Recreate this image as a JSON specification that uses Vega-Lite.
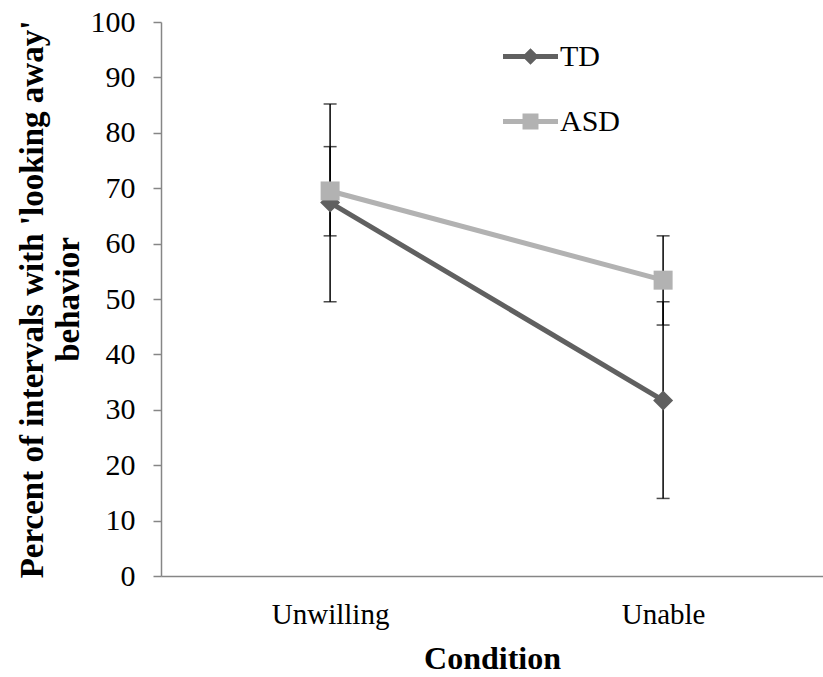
{
  "$schema": "https://vega.github.io/schema/vega-lite/v6.json",
  "width": 662,
  "height": 554,
  "autosize": "none",
  "padding": {"left": 161, "top": 22, "right": 0, "bottom": 101},
  "background": "white",
  "config": {
    "view": {"stroke": null},
    "font": "Liberation Serif",
    "axis": {"grid": false, "domainColor": "#868686", "tickColor": "#868686", "labelColor": "black", "titleColor": "black", "labelFont": "Liberation Serif", "titleFont": "Liberation Serif", "domainWidth": 1.5},
    "axisY": {"labelFontSize": 30, "labelPadding": 18, "tickSize": 8, "tickWidth": 1.5, "titleFontSize": 33, "titleFontWeight": "bold", "titleLineHeight": 36, "titlePadding": 5}
  },
  "data": {
    "values": [
      {"condition": "Unwilling", "group": "TD", "mean": 67.4, "lo": 49.5, "hi": 85.2},
      {"condition": "Unwilling", "group": "ASD", "mean": 69.5, "lo": 61.4, "hi": 77.5},
      {"condition": "Unable", "group": "TD", "mean": 31.7, "lo": 14.0, "hi": 49.5},
      {"condition": "Unable", "group": "ASD", "mean": 53.4, "lo": 45.3, "hi": 61.4}
    ]
  },
  "encoding": {
    "x": {
      "field": "condition",
      "type": "nominal",
      "sort": ["Unwilling", "Unable"],
      "scale": {"type": "point", "padding": 0.494, "align": 0.514},
      "axis": {"title": "Condition", "ticks": false, "labelAngle": 0, "labelFontSize": 29, "labelPadding": 24, "titleFontSize": 32, "titleFontWeight": "bold", "titlePadding": 14}
    }
  },
  "layer": [
    {
      "mark": {"type": "rule", "color": "black", "strokeWidth": 1.5},
      "encoding": {
        "y": {
          "field": "lo",
          "type": "quantitative",
          "title": ["Percent of intervals with 'looking away'", "behavior"],
          "scale": {"domain": [0, 100], "nice": false},
          "axis": {"values": [0, 10, 20, 30, 40, 50, 60, 70, 80, 90, 100]}
        },
        "y2": {"field": "hi"}
      }
    },
    {
      "mark": {"type": "tick", "color": "black", "thickness": 1.5, "size": 13, "orient": "horizontal"},
      "encoding": {"y": {"field": "lo", "type": "quantitative", "title": ["Percent of intervals with 'looking away'", "behavior"]}}
    },
    {
      "mark": {"type": "tick", "color": "black", "thickness": 1.5, "size": 13, "orient": "horizontal"},
      "encoding": {"y": {"field": "hi", "type": "quantitative", "title": ["Percent of intervals with 'looking away'", "behavior"]}}
    },
    {
      "mark": {"type": "line", "strokeWidth": 5},
      "encoding": {
        "y": {"field": "mean", "type": "quantitative", "title": ["Percent of intervals with 'looking away'", "behavior"]},
        "color": {
          "field": "group",
          "type": "nominal",
          "scale": {"domain": ["TD", "ASD"], "range": ["#606060", "#b2b2b2"]},
          "legend": {
            "title": null,
            "orient": "none",
            "legendX": 342,
            "legendY": 7,
            "padding": 0,
            "symbolSize": 3025,
            "symbolStrokeWidth": 0,
            "rowPadding": 22,
            "labelFontSize": 30,
            "labelOffset": 2,
            "labelColor": "black",
            "labelFont": "Liberation Serif",
            "encode": {
              "symbols": {
                "enter": {
                  "shape": {"signal": "datum.value === 'TD' ? 'M-1,-0.09L-0.21,-0.09L0,-0.3L0.21,-0.09L1,-0.09L1,0.09L0.21,0.09L0,0.3L-0.21,0.09L-1,0.09Z' : 'M-1,-0.09L-0.29,-0.09L-0.29,-0.29L0.29,-0.29L0.29,-0.09L1,-0.09L1,0.09L0.29,0.09L0.29,0.29L-0.29,0.29L-0.29,0.09L-1,0.09Z'"}
                },
                "update": {
                  "shape": {"signal": "datum.value === 'TD' ? 'M-1,-0.09L-0.21,-0.09L0,-0.3L0.21,-0.09L1,-0.09L1,0.09L0.21,0.09L0,0.3L-0.21,0.09L-1,0.09Z' : 'M-1,-0.09L-0.29,-0.09L-0.29,-0.29L0.29,-0.29L0.29,-0.09L1,-0.09L1,0.09L0.29,0.09L0.29,0.29L-0.29,0.29L-0.29,0.09L-1,0.09Z'"},
                  "fill": {"signal": "datum.value === 'TD' ? '#606060' : '#b2b2b2'"},
                  "strokeWidth": {"value": 0},
                  "opacity": {"value": 1}
                }
              }
            }
          }
        }
      }
    },
    {
      "transform": [{"filter": "datum.group === 'TD'"}],
      "mark": {"type": "point", "filled": true, "opacity": 1, "shape": "diamond", "size": 400},
      "encoding": {
        "y": {"field": "mean", "type": "quantitative", "title": ["Percent of intervals with 'looking away'", "behavior"]},
        "color": {"field": "group", "type": "nominal", "legend": null}
      }
    },
    {
      "transform": [{"filter": "datum.group === 'ASD'"}],
      "mark": {"type": "point", "filled": true, "opacity": 1, "shape": "square", "size": 361},
      "encoding": {
        "y": {"field": "mean", "type": "quantitative", "title": ["Percent of intervals with 'looking away'", "behavior"]},
        "color": {"field": "group", "type": "nominal", "legend": null}
      }
    }
  ]
}
